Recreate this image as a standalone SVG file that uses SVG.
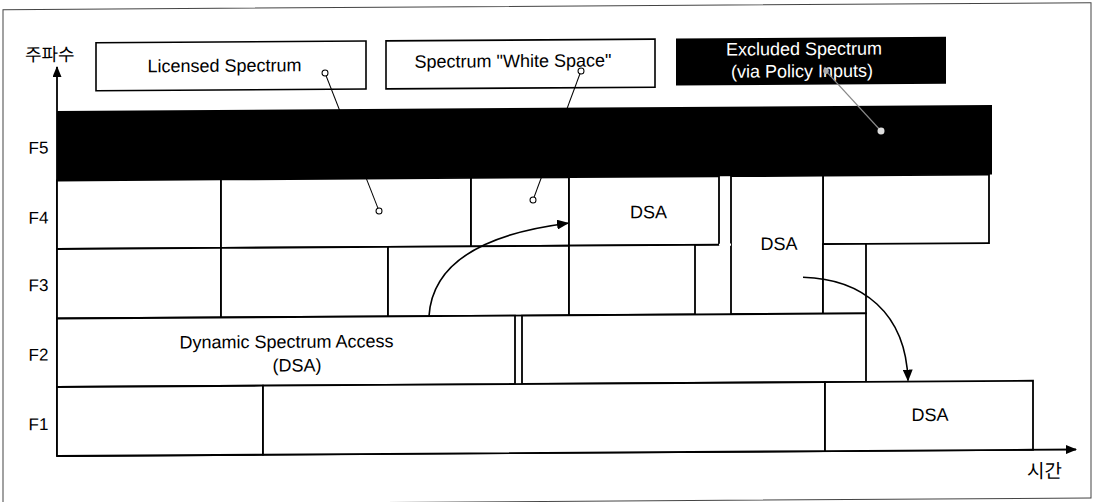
<svg xmlns="http://www.w3.org/2000/svg" width="1093" height="502" viewBox="0 0 1093 502">
<style>
  .cell{fill:#fff;stroke:#000;stroke-width:1.8}
  .lbl{fill:#fff;stroke:#000;stroke-width:1.6}
  .t{font-family:"Liberation Sans",Arial,sans-serif;font-size:18px;fill:#000}
  .tw{font-family:"Liberation Sans",Arial,sans-serif;font-size:18px;fill:#fff}
  .ax{font-family:"Liberation Sans",Arial,sans-serif;font-size:17px;fill:#000}
  .kr{font-family:"Liberation Sans","Noto Sans CJK KR",sans-serif;fill:#000}
  .call{stroke:#000;stroke-width:1;fill:none}
  .arr{stroke:#000;stroke-width:1.6;fill:none}
  .axis{stroke:#000;stroke-width:1.8;fill:none}
</style>
<defs>
  <marker id="ah" markerUnits="userSpaceOnUse" markerWidth="12" markerHeight="10" refX="11" refY="5" orient="auto">
    <path d="M0,0 L12,5 L0,10 Z" fill="#000"/>
  </marker>
  <marker id="axh" markerUnits="userSpaceOnUse" markerWidth="11" markerHeight="9" refX="10" refY="4.5" orient="auto">
    <path d="M0,0 L11,4.5 L0,9 Z" fill="#000"/>
  </marker>
</defs>
<rect width="1093" height="502" fill="#fff"/>
<g transform="matrix(1 -0.0064 0 1 0 0.365)">
  <rect id="frame" x="3" y="9.3" width="1088" height="495.3" fill="none" stroke="#444" stroke-width="1"/>

  <g id="axes">
    <line class="axis" x1="57" y1="456" x2="57" y2="67" marker-end="url(#axh)"/>
    <line class="axis" x1="57" y1="456" x2="1076" y2="456" marker-end="url(#axh)"/>
    <text class="kr" x="25" y="61" font-size="18">주파수</text>
    <text class="kr" x="1027" y="484" font-size="19">시간</text>
    <text class="ax" x="38.5" y="153.5" text-anchor="middle">F5</text>
    <text class="ax" x="38.5" y="223.5" text-anchor="middle">F4</text>
    <text class="ax" x="38.5" y="291" text-anchor="middle">F3</text>
    <text class="ax" x="38.5" y="360.5" text-anchor="middle">F2</text>
    <text class="ax" x="38.5" y="430" text-anchor="middle">F1</text>
  </g>

  <g id="label-licensed">
    <rect class="lbl" x="96" y="43" width="270" height="48"/>
    <text class="t" x="224.5" y="72.8" text-anchor="middle">Licensed Spectrum</text>
  </g>
  <g id="label-whitespace">
    <rect class="lbl" x="386" y="43" width="269" height="48"/>
    <text class="t" x="513" y="70" text-anchor="middle">Spectrum "White Space"</text>
  </g>
  <g id="label-excluded">
    <rect x="676" y="42.5" width="270" height="47" fill="#000"/>
    <text class="tw" x="804" y="59.8" text-anchor="middle">Excluded Spectrum</text>
    <text class="tw" x="802" y="82" text-anchor="middle">(via Policy Inputs)</text>
  </g>

  <g id="band-f5">
    <rect x="57" y="111" width="935" height="69.5" fill="#000"/>
  </g>

  <g id="row-f4">
    <rect class="cell" x="57" y="180.5" width="164" height="68.5"/>
    <rect class="cell" x="221" y="180.5" width="250" height="68.5"/>
    <rect class="cell" x="471" y="180.5" width="98" height="68.5"/>
    <rect class="cell" x="823" y="180.5" width="166" height="68.5"/>
  </g>
  <g id="dsa-f4">
    <rect class="cell" x="569" y="180.5" width="150" height="68.5"/>
    <text class="t" x="648.5" y="222" text-anchor="middle">DSA</text>
  </g>
  <g id="dsa-f4-f3">
    <rect class="cell" x="731" y="180.5" width="92" height="138"/>
    <text class="t" x="779" y="254.5" text-anchor="middle">DSA</text>
  </g>
  <g id="row-f3">
    <rect class="cell" x="57" y="249" width="164" height="69.5"/>
    <rect class="cell" x="221" y="249" width="167" height="69.5"/>
    <rect class="cell" x="388" y="249" width="181" height="69.5"/>
    <rect class="cell" x="569" y="249" width="126" height="69.5"/>
    <line x1="719" y1="249" x2="731" y2="249" stroke="#fff" stroke-width="2.2"/>
    <rect class="cell" x="823" y="249" width="43" height="69.5"/>
  </g>
  <g id="row-f2">
    <rect class="cell" x="522" y="318.5" width="344" height="68.5"/>
  </g>
  <g id="dsa-f2">
    <rect class="cell" x="57" y="318.5" width="458" height="68.5"/>
    <text class="t" x="286.5" y="349.3" text-anchor="middle">Dynamic Spectrum Access</text>
    <text class="t" x="297" y="373" text-anchor="middle">(DSA)</text>
  </g>
  <g id="row-f1">
    <rect class="cell" x="57" y="387" width="206" height="69"/>
    <rect class="cell" x="263" y="387" width="562" height="69"/>
  </g>
  <g id="dsa-f1">
    <rect class="cell" x="825" y="387" width="208" height="69"/>
    <text class="t" x="930" y="426.5" text-anchor="middle">DSA</text>
  </g>

  <g id="connectors">
    <line class="call" x1="325" y1="74.7" x2="379" y2="213"/>
    <circle cx="325" cy="74.7" r="3" fill="#fff" stroke="#000" stroke-width="1"/>
    <circle cx="379" cy="213" r="3" fill="#fff" stroke="#000" stroke-width="1"/>
    <line class="call" x1="581" y1="74.4" x2="533" y2="203"/>
    <circle cx="581" cy="74.4" r="3" fill="#fff" stroke="#000" stroke-width="1"/>
    <circle cx="533" cy="203" r="3" fill="#fff" stroke="#000" stroke-width="1"/>
    <line x1="826" y1="76" x2="881" y2="136.3" stroke="#888" stroke-width="1.2"/>
    <circle cx="826" cy="76" r="2.8" fill="#aaa"/>
    <circle cx="881" cy="136.3" r="3.5" fill="#ddd"/>
    <path class="arr" d="M429,318.5 C432,272 472,238 568,226.5" marker-end="url(#ah)"/>
    <path class="arr" d="M803,282 C862,284 906,318 908,386" marker-end="url(#ah)"/>
  </g>
</g>
</svg>
